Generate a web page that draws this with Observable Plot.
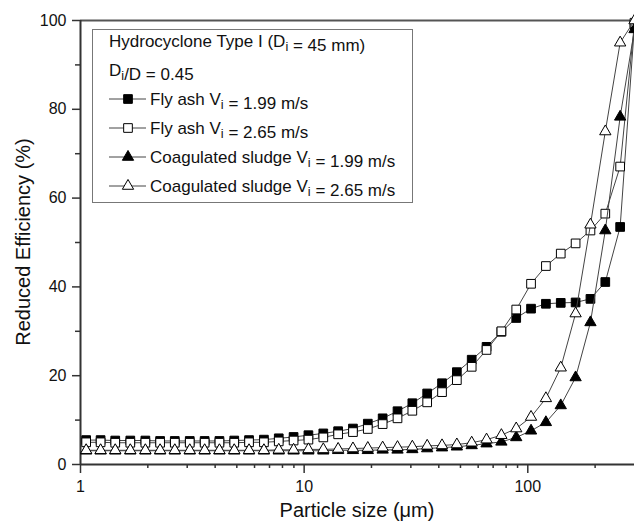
<!DOCTYPE html>
<html><head><meta charset="utf-8">
<script src="https://cdn.jsdelivr.net/npm/d3@7"></script>
<script src="https://cdn.jsdelivr.net/npm/@observablehq/plot@0.6"></script>
<style>html,body{margin:0;padding:0;background:#fff}</style>
</head><body><div id="chart"></div>
<script>
// Particle size bins (µm)
const sizes = [1.06, 1.23, 1.43, 1.67, 1.95, 2.27, 2.64, 3.08, 3.59, 4.18,
  4.87, 5.67, 6.61, 7.70, 8.97, 10.45, 12.18, 14.19, 16.53, 19.26,
  22.44, 26.15, 30.46, 35.49, 41.35, 48.17, 56.13, 65.40, 76.19, 88.78,
  103.4, 120.5, 140.4, 163.6, 190.6, 222.1, 258.8, 300];

// Reduced efficiency (%) per series
const flyAsh199 = [5.5, 5.5, 5.4, 5.4, 5.4, 5.3, 5.3, 5.3, 5.3, 5.3,
  5.4, 5.5, 5.6, 5.9, 6.2, 6.6, 7.0, 7.5, 8.1, 9.2,
  10.4, 12.0, 13.8, 16.0, 18.3, 20.8, 23.6, 26.5, 29.9, 33.0,
  35.1, 36.2, 36.4, 36.5, 37.3, 41.1, 53.5, 99.0];
const flyAsh265 = [5.0, 5.0, 4.9, 4.9, 4.9, 4.9, 4.9, 4.9, 4.9, 4.9,
  4.9, 5.0, 5.0, 5.2, 5.4, 5.6, 6.1, 6.8, 7.3, 8.0,
  9.1, 10.4, 12.1, 14.0, 16.3, 19.0, 22.0, 25.8, 30.0, 34.9,
  40.7, 44.7, 47.5, 49.8, 52.7, 56.5, 67.1, 99.5];
const sludge199 = [3.1, 3.1, 3.1, 3.1, 3.1, 3.1, 3.1, 3.1, 3.1, 3.1,
  3.1, 3.1, 3.1, 3.1, 3.1, 3.1, 3.1, 3.2, 3.2, 3.2,
  3.3, 3.3, 3.4, 3.6, 3.8, 4.0, 4.3, 4.7, 5.1, 6.1,
  7.6, 9.5, 13.3, 19.6, 32.0, 52.7, 78.3, 98.0];
const sludge265 = [3.2, 3.2, 3.2, 3.2, 3.2, 3.2, 3.2, 3.2, 3.2, 3.2,
  3.2, 3.2, 3.2, 3.3, 3.3, 3.4, 3.4, 3.5, 3.6, 3.7,
  3.8, 3.9, 4.0, 4.2, 4.3, 4.5, 4.9, 5.6, 6.6, 8.1,
  10.7, 14.9, 21.8, 34.0, 54.0, 75.0, 95.0, 100.0];

const materials = ["Fly ash", "Fly ash", "Coagulated sludge", "Coagulated sludge"];
const velocities = ["1.99", "2.65", "1.99", "2.65"];
const symbols = ["square", "square", "triangle", "triangle"];
const fills = ["black", "white", "black", "white"];
const seriesValues = [flyAsh199, flyAsh265, sludge199, sludge265];

const xMajorTicks = [1, 10, 100];
const xMinorTicks = [2, 3, 4, 5, 6, 7, 8, 9, 20, 30, 40, 50, 60, 70, 80, 90, 200];
const yMajorTicks = [0, 20, 40, 60, 80, 100];
const yMinorTicks = [10, 30, 50, 70, 90];

const FONT = "'Liberation Sans', Arial, Helvetica, sans-serif";
const sizeFor = s => s === "square" ? 4.9 : 4.2;

const series = seriesValues.map((vals, i) => ({
  key: i, symbol: symbols[i], fill: fills[i],
  rows: sizes.map((x, j) => ({x, y: vals[j]}))
}));

const seriesMarks = series.flatMap(s => [
  Plot.line(s.rows, {x: "x", y: "y", stroke: "#444", strokeWidth: 1}),
  Plot.dot(s.rows, {x: "x", y: "y", symbol: s.symbol, r: sizeFor(s.symbol), fill: s.fill, stroke: "black", strokeWidth: 1})
]);

const chart = Plot.plot({
  width: 634, height: 523,
  marginTop: 20, marginBottom: 59, marginLeft: 80, marginRight: 0,
  style: {fontFamily: FONT, fontSize: "16px", color: "#111", background: "#fff", overflow: "hidden"},
  x: {type: "log", domain: [1, 300]},
  y: {domain: [0, 100]},
  marks: [
    Plot.axisX({ticks: xMinorTicks, tickSize: 4, tickFormat: () => "", stroke: "#333", strokeWidth: 1.5, label: null}),
    Plot.axisX({ticks: xMajorTicks, tickSize: 9, tickPadding: 7, tickFormat: d => String(d), stroke: "#333", strokeWidth: 1.5, fill: "#111", label: null}),
    Plot.axisY({ticks: yMinorTicks, tickSize: 5, tickFormat: () => "", stroke: "#333", strokeWidth: 1.5, label: null}),
    Plot.axisY({ticks: yMajorTicks, tickSize: 8, tickPadding: 6, tickFormat: d => String(d), stroke: "#333", strokeWidth: 1.5, fill: "#111", label: null}),
    Plot.ruleY([0], {stroke: "#333", strokeWidth: 2}),
    Plot.ruleY([100], {stroke: "#555", strokeWidth: 2}),
    Plot.ruleX([1], {stroke: "#333", strokeWidth: 2}),
    ...seriesMarks
  ]
});
document.getElementById("chart").appendChild(chart);

// Legend and axis titles
const svg = d3.select(chart);
function richText(g, x, y, parts, size) {
  const t = g.append("text").attr("x", x).attr("y", y).attr("text-anchor", "start")
    .attr("font-family", FONT).attr("font-size", size).attr("fill", "#111");
  parts.forEach(([str, sub]) => {
    if (sub) {
      t.append("tspan").attr("font-size", size * 0.75).attr("dy", 4).text(str);
      t.append("tspan").attr("dy", -4).text("");
    } else {
      t.append("tspan").text(str);
    }
  });
  return t;
}
const LEG = 17;
const lg = svg.append("g").attr("text-anchor", "start");
lg.append("rect").attr("x", 92.5).attr("y", 29.5).attr("width", 320).attr("height", 173)
  .attr("fill", "white").attr("stroke", "#777").attr("stroke-width", 1);
richText(lg, 109, 47, [["Hydrocyclone Type I (D"], ["i", true], [" = 45 mm)"]], LEG);
richText(lg, 109, 76, [["D"], ["i", true], ["/D = 0.45"]], LEG);
const rowY = [105, 134, 163, 192];
series.forEach((s, i) => {
  const cy = rowY[i] - 6;
  lg.append("line").attr("x1", 109).attr("x2", 146).attr("y1", cy).attr("y2", cy)
    .attr("stroke", "#444").attr("stroke-width", 1);
  const r = sizeFor(s.symbol);
  const sym = d3.symbol(s.symbol === "square" ? d3.symbolSquare : d3.symbolTriangle, Math.PI * r * r);
  lg.append("path").attr("d", sym()).attr("transform", `translate(128,${cy})`)
    .attr("fill", s.fill).attr("stroke", "black").attr("stroke-width", 1);
  richText(lg, 150, rowY[i], [[materials[i] + " V"], ["i", true], [" = " + velocities[i] + " m/s"]], LEG);
});

svg.append("text").attr("x", 357).attr("y", 517).attr("text-anchor", "middle")
  .attr("font-family", FONT).attr("font-size", 20).attr("fill", "#111")
  .text("Particle size (μm)");
svg.append("text").attr("transform", "translate(30,242) rotate(-90)").attr("text-anchor", "middle")
  .attr("font-family", FONT).attr("font-size", 20).attr("fill", "#111")
  .text("Reduced Efficiency (%)");
</script>
</body></html>
